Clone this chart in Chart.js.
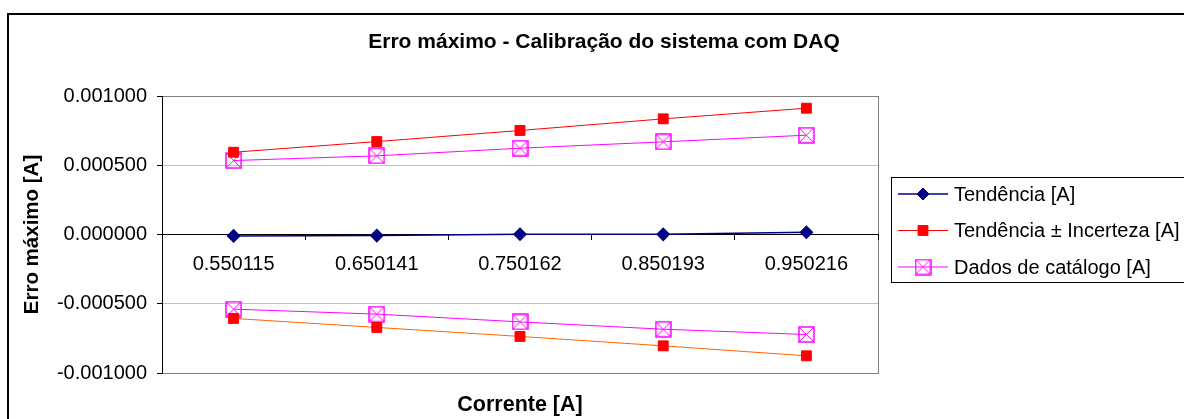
<!DOCTYPE html>
<html>
<head>
<meta charset="utf-8">
<script src="https://cdn.jsdelivr.net/npm/chart.js@4"></script>
<style>
  body { margin: 0; background: #fff; }
  #wrap { width: 1184px; height: 419px; }
</style>
</head>
<body>
<div id="wrap"><canvas id="erro-maximo" width="1184" height="419"></canvas></div>
<script>
const categories = ["0.550115", "0.650141", "0.750162", "0.850193", "0.950216"];
const tendencia = [-0.000010, -0.000008, 0.000002, 0.000001, 0.000016];
const incertezaSup = [0.000594, 0.000671, 0.000751, 0.000835, 0.000912];
const incertezaInf = [-0.000606, -0.000671, -0.000736, -0.000804, -0.000876];
const catalogoSup = [0.000534, 0.000568, 0.000623, 0.000669, 0.000717];
const catalogoInf = [-0.000539, -0.000575, -0.000631, -0.000684, -0.000722];
const yTicks = [-0.001, -0.0005, 0, 0.0005, 0.001];

const chartTitle = "Erro máximo - Calibração do sistema com DAQ";
const xTitle = "Corrente [A]";
const yTitle = "Erro máximo [A]";

// box with an X inside, like the Excel marker
function boxCross(size, color) {
    const c = document.createElement("canvas");
    c.width = size; c.height = size;
    const g = c.getContext("2d");
    g.strokeStyle = color;
    g.lineWidth = 1.5;
    g.strokeRect(1, 1, size - 2, size - 2);
    g.lineWidth = 1;
    g.beginPath();
    g.moveTo(2, 2); g.lineTo(size - 2, size - 2);
    g.moveTo(size - 2, 2); g.lineTo(2, size - 2);
    g.stroke();
    return c;
}
const catMarker = boxCross(17, "#ff00ff");

const excelDecor = {
    id: "excelDecor",
    beforeDraw(chart) {
        const {ctx, chartArea: a} = chart;
        ctx.save();
        ctx.fillStyle = "#fff";
        ctx.fillRect(0, 0, chart.width, chart.height);
        ctx.strokeStyle = "#000";
        ctx.lineWidth = 2;
        ctx.strokeRect(8, 14, chart.width + 20, chart.height + 20);
        ctx.strokeStyle = "#808080";
        ctx.lineWidth = 1;
        ctx.strokeRect(Math.round(a.left) + 0.5, Math.round(a.top) + 0.5, Math.round(a.width), Math.round(a.height));
        ctx.restore();
    },
    afterDraw(chart) {
        const {ctx, chartArea: a} = chart;
        ctx.save();
        ctx.fillStyle = "#000";
        ctx.textAlign = "center";
        ctx.textBaseline = "middle";
        ctx.font = "bold 21px 'Liberation Sans', Arial, sans-serif";
        ctx.fillText(chartTitle, 604, 42);
        ctx.font = "bold 21.5px 'Liberation Sans', Arial, sans-serif";
        ctx.fillText(xTitle, (a.left + a.right) / 2, 405);

        // legend
        ctx.strokeStyle = "#000";
        ctx.lineWidth = 1;
        ctx.strokeRect(891.5, 177.5, 320, 105);
        ctx.font = "20px 'Liberation Sans', Arial, sans-serif";
        ctx.textAlign = "left";
        const items = [0, 1, 3];
        items.forEach((di, i) => {
            const ds = chart.data.datasets[di];
            const y = 194 + i * 36.5;
            ctx.strokeStyle = ds.borderColor;
            ctx.lineWidth = ds.borderWidth;
            ctx.beginPath();
            ctx.moveTo(898, y);
            ctx.lineTo(948, y);
            ctx.stroke();
            ctx.fillStyle = ds.pointBackgroundColor;
            ctx.strokeStyle = ds.pointBorderColor;
            ctx.lineWidth = 1;
            Chart.helpers.drawPoint(ctx, {pointStyle: ds.pointStyle, radius: ds.pointRadius, borderWidth: 1, rotation: 0}, 923, y);
            ctx.fillStyle = "#000";
            ctx.fillText(ds.label, 954, y + 1);
        });
        ctx.restore();
    }
};

const ctx = document.getElementById("erro-maximo").getContext("2d");

new Chart(ctx, {
    type: "line",
    data: {
        labels: categories,
        datasets: [{
            label: "Tendência [A]",
            data: tendencia,
            borderColor: "#000080",
            borderWidth: 1.5,
            pointStyle: "rectRot",
            pointRadius: 6,
            pointBackgroundColor: "#000080",
            pointBorderColor: "#000080"
        }, {
            label: "Tendência ± Incerteza [A]",
            data: incertezaSup,
            borderColor: "#ff0000",
            borderWidth: 1,
            pointStyle: "rect",
            pointRadius: 7,
            pointBackgroundColor: "#ff0000",
            pointBorderColor: "#ff0000"
        }, {
            label: "Tendência - Incerteza [A]",
            data: incertezaInf,
            borderColor: "#ff6600",
            borderWidth: 1,
            pointStyle: "rect",
            pointRadius: 7,
            pointBackgroundColor: "#ff0000",
            pointBorderColor: "#ff0000"
        }, {
            label: "Dados de catálogo [A]",
            data: catalogoSup,
            borderColor: "#ff00ff",
            borderWidth: 1,
            pointStyle: catMarker,
            pointRadius: 8,
            pointBackgroundColor: "rgba(0,0,0,0)",
            pointBorderColor: "#ff00ff"
        }, {
            label: "Dados de catálogo (inf) [A]",
            data: catalogoInf,
            borderColor: "#ff00ff",
            borderWidth: 1,
            pointStyle: catMarker,
            pointRadius: 8,
            pointBackgroundColor: "rgba(0,0,0,0)",
            pointBorderColor: "#ff00ff"
        }]
    },
    options: {
        responsive: false,
        animation: false,
        devicePixelRatio: 1,
        layout: {padding: {left: 0, right: 306, top: 96, bottom: 46}},
        plugins: {
            legend: {display: false},
            title: {display: false},
            tooltip: {enabled: false}
        },
        elements: {line: {tension: 0}},
        scales: {
            x: {
                position: {y: 0},
                offset: true,
                grid: {
                    offset: true,
                    drawOnChartArea: false,
                    drawTicks: true,
                    tickLength: 5,
                    tickColor: "#000"
                },
                border: {color: "#000", width: 1},
                ticks: {
                    color: "#000",
                    padding: 13,
                    maxRotation: 0,
                    autoSkip: false,
                    font: {family: "'Liberation Sans', Arial, sans-serif", size: 20}
                }
            },
            y: {
                min: -0.001,
                max: 0.001,
                afterFit(scale) { scale.width = 162; },
                afterBuildTicks(scale) { scale.ticks = yTicks.map(v => ({value: v})); },
                grid: {
                    color: c => {
                        const v = c.tick ? c.tick.value : 0;
                        if (Math.abs(v) < 1e-12) return "rgba(0,0,0,0)";
                        if (Math.abs(Math.abs(v) - 0.001) < 1e-12) return "#808080";
                        return "#c0c0c0";
                    },
                    tickColor: "#000",
                    tickLength: 5
                },
                border: {color: "#000", width: 1},
                ticks: {
                    color: "#000",
                    padding: 10,
                    font: {family: "'Liberation Sans', Arial, sans-serif", size: 20},
                    callback: v => (Math.abs(v) < 1e-12 ? 0 : v).toFixed(6)
                },
                title: {
                    display: true,
                    text: yTitle,
                    color: "#000",
                    padding: {top: 20, bottom: 0},
                    font: {family: "'Liberation Sans', Arial, sans-serif", size: 20.5, weight: "bold"}
                }
            }
        }
    },
    plugins: [excelDecor]
});
</script>
</body>
</html>
